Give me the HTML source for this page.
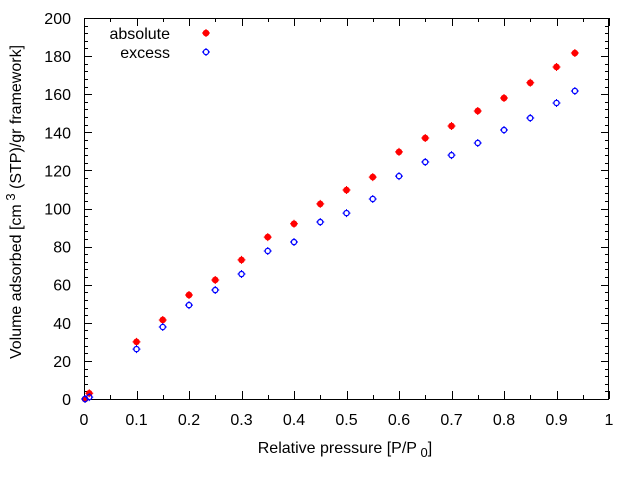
<!DOCTYPE html>
<html><head><meta charset="utf-8"><style>
body{margin:0;background:#fff}
svg{display:block;font-family:"Liberation Sans",sans-serif}
</style></head><body>
<svg id="c" width="640" height="480" xmlns="http://www.w3.org/2000/svg"></svg>
<script>
const pressure=[0.002,0.01,0.1,0.15,0.2,0.25,0.3,0.35,0.4,0.45,0.5,0.55,0.6,0.65,0.7,0.75,0.8,0.85,0.9,0.935];
const absoluteVals=[0,3,30,41.5,54.6,62.5,73,85,92,102.4,109.7,116.5,129.7,137,143.3,151.2,158,166,174.3,181.6];
const excessVals=[0,1,26.2,37.8,49.3,57.2,65.6,77.7,82.4,92.9,97.6,105,117,124.4,128,134.4,141.2,147.5,155.4,161.7];
const xTicks=[0,0.1,0.2,0.3,0.4,0.5,0.6,0.7,0.8,0.9,1];
const xTickLabels=["0","0.1","0.2","0.3","0.4","0.5","0.6","0.7","0.8","0.9","1"];
const yTicks=[0,20,40,60,80,100,120,140,160,180,200];

const L=84,R=609,T=18,B=399;
const sx=v=>L+(R-L)*v;
const sy=v=>B-(B-T)*v/200;
const svg=document.getElementById('c');
const NS="http://www.w3.org/2000/svg";
function mk(tag,attrs,parent){const e=document.createElementNS(NS,tag);for(const k in attrs)e.setAttribute(k,attrs[k]);(parent||svg).appendChild(e);return e;}

const frame=mk('rect',{x:L+0.5,y:T+0.5,width:R-L-1,height:B-T,fill:'none',stroke:'#000','stroke-width':1});



const ax=mk('g',{stroke:'#000','stroke-width':1});


for(let i=0;i<=20;i++){const x=Math.round(sx(i/20))+0.5;const len=i%2?4:8;
 mk('line',{x1:x,y1:B,x2:x,y2:B-len},ax);mk('line',{x1:x,y1:T,x2:x,y2:T+len},ax);}
for(let i=0;i<=50;i++){const y=Math.round(sy(i*4))+0.5;const len=i%5?4:8;
 mk('line',{x1:L,y1:y,x2:L+len,y2:y},ax);mk('line',{x1:R,y1:y,x2:R-len,y2:y},ax);}

xTicks.forEach((v,i)=>{const t=mk('text',{x:sx(v),y:425,'font-size':16,'text-anchor':'middle',fill:'#000'});t.textContent=xTickLabels[i];
 
 });
yTicks.forEach(v=>{const t=mk('text',{x:71,y:sy(v)+6,'font-size':16,'text-anchor':'end',fill:'#000'});t.textContent=v;
 
 });

const xt=mk('text',{x:345,y:453,'font-size':16,'text-anchor':'middle'});
xt.innerHTML='Relative pressure [P/P<tspan font-size="13" dy="4"> 0</tspan><tspan dy="-4">]</tspan>';


const yt=mk('text',{x:0,y:0,'font-size':16,'text-anchor':'middle',transform:'translate(21,202) rotate(-90)'});
yt.innerHTML='Volume adsorbed [cm<tspan font-size="13" dy="-6"> 3</tspan><tspan dy="6"> (STP)/gr framework]</tspan>';



function absMark(x,y,g){mk('circle',{cx:x,cy:y,r:3.3,fill:'#f00'},g);mk('path',{d:`M${x-4} ${y}H${x+4}M${x} ${y-4}V${y+4}`,stroke:'#f00','stroke-width':1},g);}
function excMark(x,y,g){mk('circle',{cx:x,cy:y,r:2.6,fill:'none',stroke:'#00f','stroke-width':1.3},g);mk('path',{d:`M${x-4} ${y}H${x-2.5}M${x+2.5} ${y}H${x+4}M${x} ${y-4}V${y-2.5}M${x} ${y+2.5}V${y+4}`,stroke:'#00f','stroke-width':1},g);}

const gA=mk('g',{});


const gE=mk('g',{});


pressure.forEach((p,i)=>{absMark(sx(p),sy(absoluteVals[i]),gA);excMark(sx(p),sy(excessVals[i]),gE);});

const lg=mk('g',{});


const l1=mk('text',{x:170,y:39,'font-size':16,'text-anchor':'end'},lg);l1.textContent='absolute';


absMark(206,33,lg);
const l2=mk('text',{x:170,y:58,'font-size':16,'text-anchor':'end'},lg);l2.textContent='excess';


excMark(206,52,lg);
</script>
</body></html>
